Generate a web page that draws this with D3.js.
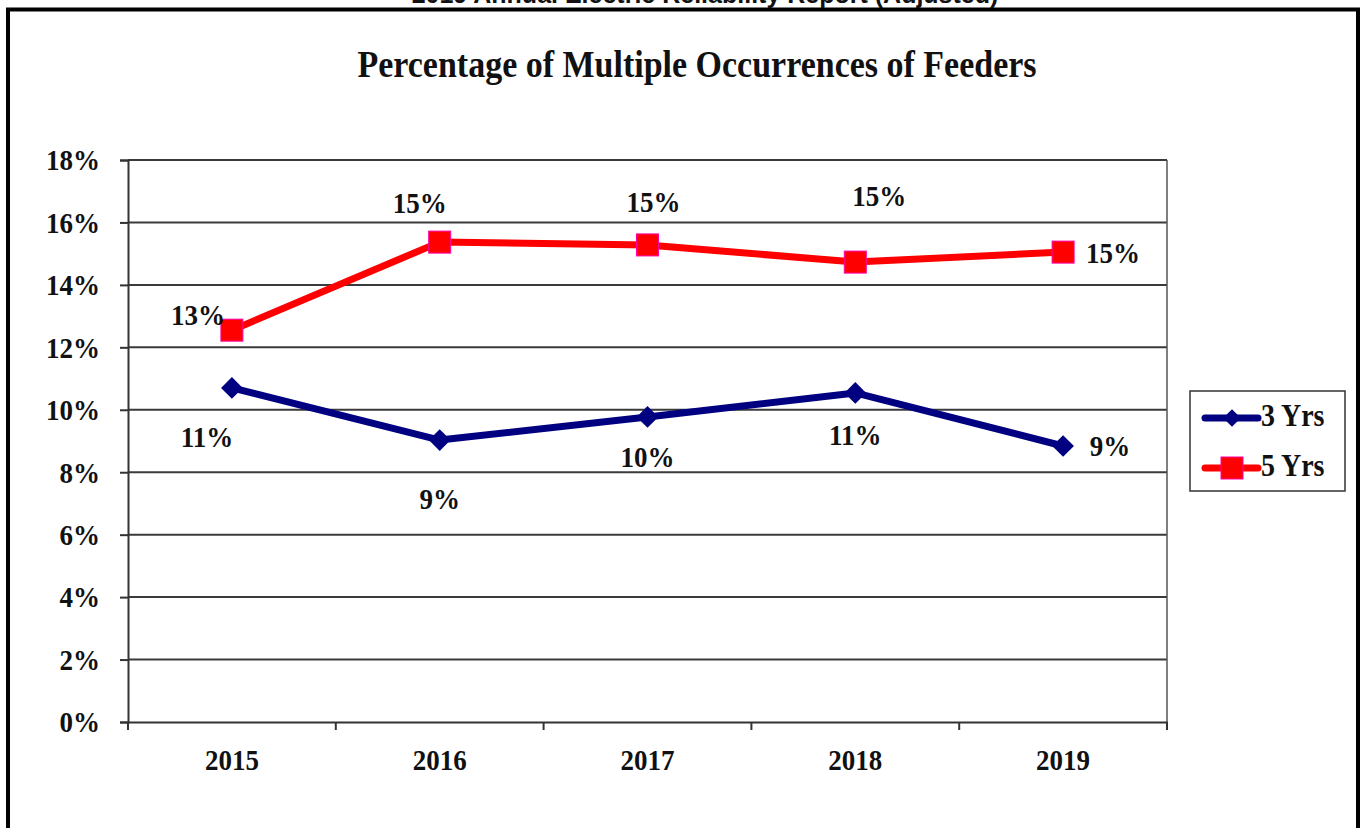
<!DOCTYPE html>
<html>
<head>
<meta charset="utf-8">
<script src="https://cdn.jsdelivr.net/npm/d3@7"></script>
<style>
  html, body { margin: 0; padding: 0; background: #fff; }
  svg text { font-family: "Liberation Serif", "Times New Roman", serif; font-weight: bold; fill: #111; }
  /* the reference text is a little stretched vertically */
  svg text.tall { transform-box: fill-box; transform-origin: center; transform: scaleY(1.12); }
</style>
</head>
<body>
<svg id="chart" width="1361" height="828"></svg>
<script>
// data
const years = ["2015", "2016", "2017", "2018", "2019"];
const threeYrs = [10.7, 9.03, 9.77, 10.54, 8.84];
const fiveYrs = [12.55, 15.37, 15.28, 14.73, 15.05];
const yTicks = [0, 2, 4, 6, 8, 10, 12, 14, 16, 18];
const seriesNames = ["3 Yrs", "5 Yrs"];

// label offsets (dx, dy) from the point, per series
const threeOffsets = [[-25, 52], [0, 62], [0, 43], [0, 45], [47, 3]];
const fiveOffsets = [[-34, -12], [-20, -36], [6, -40], [24, -63], [50, 4]];

const svg = d3.select("#chart");

// outer frame
svg.append("rect")
  .attr("x", 8).attr("y", 9.5)
  .attr("width", 1350).attr("height", 900)
  .attr("fill", "#fff")
  .attr("stroke", "#000").attr("stroke-width", 4);

// cut-off header above the frame
svg.append("text")
  .attr("x", 705).attr("y", 3)
  .attr("text-anchor", "middle")
  .style("font-family", "'Liberation Sans', Arial, sans-serif")
  .style("font-size", "25px")
  .text("2019 Annual Electric Reliability Report (Adjusted)");

const margin = { left: 128, right: 1167, top: 160, bottom: 722 };

const x = d3.scaleBand().domain(years).range([margin.left, margin.right]);
const y = d3.scaleLinear().domain([0, 18]).range([margin.bottom, margin.top]);

// title
svg.append("text")
  .attr("class", "tall")
  .attr("x", 697).attr("y", 76)
  .attr("text-anchor", "middle")
  .style("font-size", "34px")
  .text("Percentage of Multiple Occurrences of Feeders");

// gridlines
svg.append("g")
  .selectAll("line")
  .data(yTicks.filter(d => d > 0))
  .join("line")
  .attr("x1", margin.left).attr("x2", margin.right)
  .attr("y1", d => y(d)).attr("y2", d => y(d))
  .attr("stroke", "#3a3a3a").attr("stroke-width", 2);

// right border of plot area
svg.append("line")
  .attr("x1", margin.right).attr("x2", margin.right)
  .attr("y1", margin.top).attr("y2", margin.bottom)
  .attr("stroke", "#555").attr("stroke-width", 1.5);

// y axis
const yAxis = svg.append("g")
  .attr("transform", `translate(${margin.left},0)`)
  .call(d3.axisLeft(y).tickValues(yTicks).tickFormat(d => d + "%").tickSize(8).tickPadding(20));
yAxis.select(".domain").attr("stroke", "#333").attr("stroke-width", 2);
yAxis.selectAll(".tick line").attr("stroke", "#333").attr("stroke-width", 2);
yAxis.selectAll("text").attr("class", "tall").style("font-size", "27px").attr("fill", "#111");

// x axis, ticks on band edges
const xAxis = svg.append("g")
  .attr("transform", `translate(0,${margin.bottom})`)
  .call(d3.axisBottom(x).tickSize(0).tickPadding(28));
xAxis.select(".domain").attr("stroke", "#333").attr("stroke-width", 2);
xAxis.selectAll("text").attr("class", "tall").style("font-size", "27px").attr("fill", "#111");
svg.append("g")
  .selectAll("line")
  .data(years.concat(["end"]))
  .join("line")
  .attr("x1", (d, i) => margin.left + i * x.step())
  .attr("x2", (d, i) => margin.left + i * x.step())
  .attr("y1", margin.bottom).attr("y2", margin.bottom + 8)
  .attr("stroke", "#333").attr("stroke-width", 2);

const line = d3.line()
  .x((d, i) => x(years[i]) + x.bandwidth() / 2)
  .y(d => y(d));

// 3 Yrs series
svg.append("path")
  .datum(threeYrs)
  .attr("d", line)
  .attr("fill", "none")
  .attr("stroke", "#000080").attr("stroke-width", 7)
  .attr("stroke-linejoin", "round");

svg.append("g")
  .selectAll("path")
  .data(threeYrs)
  .join("path")
  .attr("d", d3.symbol(d3.symbolDiamond2, 300))
  .attr("transform", (d, i) => `translate(${x(years[i]) + x.bandwidth() / 2},${y(d)})`)
  .attr("fill", "#000080");

// 5 Yrs series
svg.append("path")
  .datum(fiveYrs)
  .attr("d", line)
  .attr("fill", "none")
  .attr("stroke", "#ff0000").attr("stroke-width", 7)
  .attr("stroke-linejoin", "round");

svg.append("g")
  .selectAll("rect")
  .data(fiveYrs)
  .join("rect")
  .attr("x", (d, i) => x(years[i]) + x.bandwidth() / 2 - 11)
  .attr("y", d => y(d) - 11)
  .attr("width", 22).attr("height", 22)
  .attr("fill", "#ff0000")
  .attr("stroke", "#ff00aa").attr("stroke-width", 1);

// data labels
function labels(values, offsets) {
  svg.append("g")
    .selectAll("text")
    .data(values)
    .join("text")
    .attr("class", "tall")
    .attr("x", (d, i) => x(years[i]) + x.bandwidth() / 2 + offsets[i][0])
    .attr("y", (d, i) => y(d) + offsets[i][1])
    .attr("text-anchor", "middle")
    .attr("dominant-baseline", "middle")
    .style("font-size", "27px")
    .text(d => Math.round(d) + "%");
}
labels(threeYrs, threeOffsets);
labels(fiveYrs, fiveOffsets);

// legend
const legend = svg.append("g").attr("transform", "translate(1190,391)");
legend.append("rect")
  .attr("width", 155).attr("height", 100)
  .attr("fill", "#fff").attr("stroke", "#333").attr("stroke-width", 1.5);

const legendColors = ["#000080", "#ff0000"];
seriesNames.forEach((name, i) => {
  const ly = 27 + i * 50;
  legend.append("line")
    .attr("x1", 15).attr("x2", 68)
    .attr("y1", ly).attr("y2", ly)
    .attr("stroke", legendColors[i]).attr("stroke-width", 7)
    .attr("stroke-linecap", "round");
  if (i === 0) {
    legend.append("path")
      .attr("d", d3.symbol(d3.symbolDiamond2, 200))
      .attr("transform", `translate(42,${ly})`)
      .attr("fill", legendColors[i]);
  } else {
    legend.append("rect")
      .attr("x", 31).attr("y", ly - 11)
      .attr("width", 22).attr("height", 22)
      .attr("fill", "#ff0000").attr("stroke", "#ff00aa").attr("stroke-width", 1);
  }
  legend.append("text")
    .attr("class", "tall")
    .attr("x", 71).attr("y", ly)
    .attr("dominant-baseline", "middle")
    .style("font-size", "28px")
    .text(name);
});
</script>
</body>
</html>
